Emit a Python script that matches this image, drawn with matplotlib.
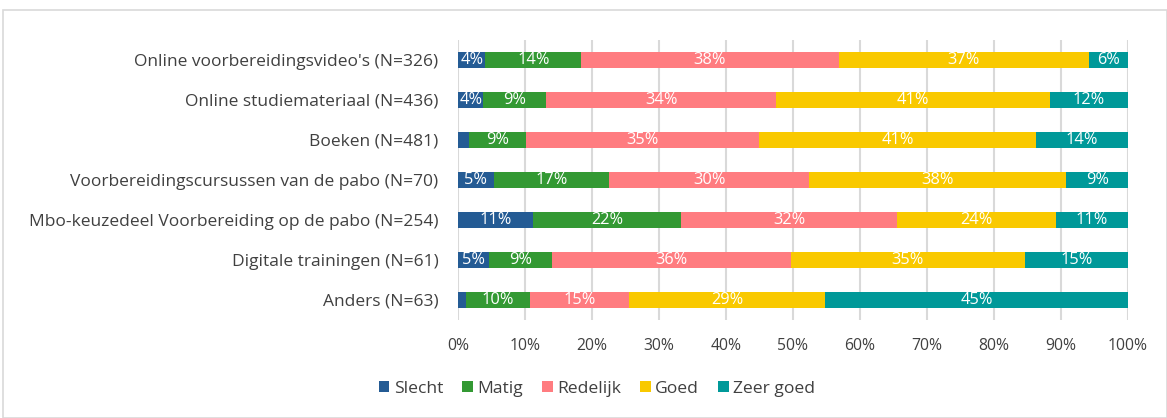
import matplotlib.pyplot as plt
from matplotlib.patches import Rectangle
import numpy as np

categories = ["Online voorbereidingsvideo's (N=326)",
              "Online studiemateriaal (N=436)",
              "Boeken (N=481)",
              "Voorbereidingscursussen van de pabo (N=70)",
              "Mbo-keuzedeel Voorbereiding op de pabo (N=254)",
              "Digitale trainingen (N=61)",
              "Anders (N=63)"]
series = ["Slecht", "Matig", "Redelijk", "Goed", "Zeer goed"]
slecht = [4.1, 3.8, 1.6, 5.3, 11.2, 4.6, 1.2]
matig = [14.3, 9.4, 8.6, 17.3, 22.1, 9.4, 9.6]
redelijk = [38.4, 34.3, 34.7, 29.8, 32.2, 35.7, 14.7]
goed = [37.4, 40.8, 41.4, 38.4, 23.8, 34.9, 29.3]
zeer_goed = [5.8, 11.7, 13.7, 9.2, 10.7, 15.4, 45.2]
colors = ["#245B94", "#339933", "#FF7C80", "#F9C900", "#009999"]

plt.rcParams['font.family'] = ['Open Sans', 'DejaVu Sans']

fig = plt.figure(figsize=(11.67, 4.18), dpi=100)
fig.patches.append(Rectangle((3/1167, 0), 1 - 3/1167, 1 - 10/418, transform=fig.transFigure,
                             fill=False, edgecolor="#D9D9D9", linewidth=1.2))
ax = fig.add_axes([458/1167, 1 - 320/418, 670/1167, 280/418])

y = np.arange(len(categories))
left = np.zeros(len(categories))
for name, vals, c in zip(series, [slecht, matig, redelijk, goed, zeer_goed], colors):
    vals = np.array(vals)
    bars = ax.barh(y, vals, left=left, height=0.4, color=c, label=name, zorder=3)
    for b, v in zip(bars, vals):
        if v >= 2.5:
            ax.text(b.get_x() + b.get_width() / 2, b.get_y() + b.get_height() / 2,
                    "%d%%" % round(v), ha="center", va="center", color="white",
                    fontsize=11.8, zorder=4)
    left += vals

ax.set_xlim(0, 100)
ax.set_ylim(len(categories) - 0.5, -0.5)
ax.set_yticks(y)
ax.set_yticklabels(categories, fontsize=12.5, color="#404040")
ax.set_xticks(np.arange(0, 101, 10))
ax.set_xticklabels(["%d%%" % v for v in range(0, 101, 10)], fontsize=11.3, color="#404040")
ax.tick_params(axis="y", length=0, pad=14)
ax.tick_params(axis="x", length=0, pad=13)
ax.grid(axis="x", color="#D9D9D9", linewidth=1.5, zorder=0)
for s in ax.spines.values():
    s.set_visible(False)

ax.legend(loc="center", bbox_to_anchor=(597/1167, 1 - 389/418), bbox_transform=fig.transFigure,
          ncol=5, frameon=False, fontsize=12.6, handlelength=0.6, handleheight=0.6,
          handletextpad=0.25, columnspacing=1.1, labelcolor="#404040")

fig.savefig("out.png", dpi=100)
